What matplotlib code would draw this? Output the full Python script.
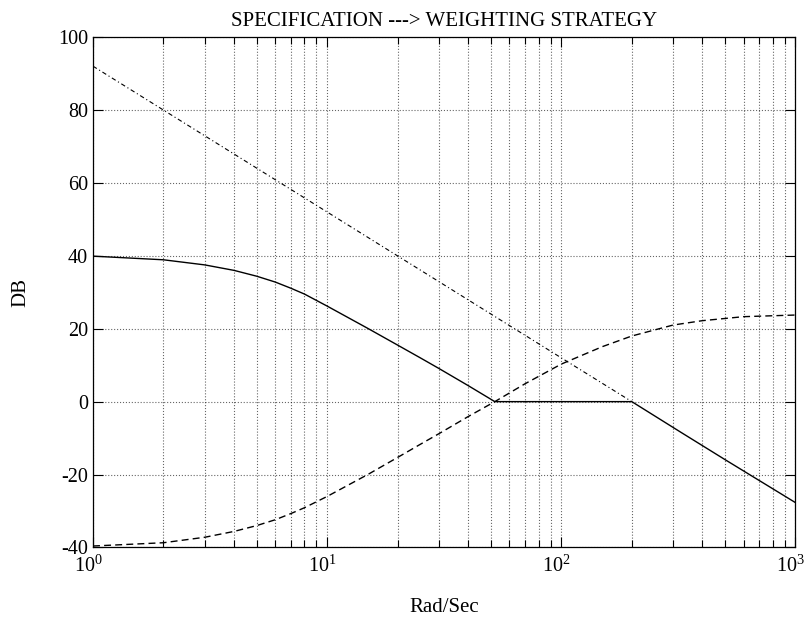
import matplotlib
matplotlib.use("Agg")
import matplotlib.pyplot as plt
import matplotlib.transforms as mtransforms
import numpy as np

plt.rcParams['font.family'] = ['Liberation Serif', 'DejaVu Serif']
plt.rcParams['mathtext.fontset'] = 'custom'
plt.rcParams['mathtext.rm'] = 'Liberation Serif'
plt.rcParams['axes.unicode_minus'] = False

# frequency samples (rad/s) and magnitudes (dB)
w_spec = [1, 2, 3, 4, 5, 6, 7, 8, 10, 15, 20, 25, 30, 40, 52, 200, 322, 500, 1000]
db_spec = [39.9, 38.9, 37.5, 36.0, 34.4, 32.8, 31.1, 29.5, 26.2, 20.0, 15.5, 12.0, 9.1,
           4.4, 0.0, 0.0, -8.3, -15.9, -27.7]

w_wt = [1, 2, 3, 4, 5, 6, 7, 8, 10, 15, 20, 25, 30, 40, 52, 70, 100, 150, 200, 300,
        400, 600, 1000]
db_wt = [-39.6, -38.7, -37.2, -35.6, -34.0, -32.4, -30.7, -29.1, -26.0, -19.9, -15.3,
         -11.7, -8.8, -4.1, 0.0, 4.9, 10.3, 15.1, 18.0, 21.0, 22.2, 23.3, 23.75]

w_bound = [1, 10, 100, 200]
db_bound = [92.0, 52.0, 12.0, 0.0]

fig = plt.figure(figsize=(8.08, 6.21), dpi=100)
ax = fig.add_axes([0.1151, 0.1184, 0.8694, 0.8220])

ax.semilogx(w_spec, db_spec, color='black', lw=1.0)
ax.semilogx(w_wt, db_wt, color='black', lw=1.0, linestyle=(0, (5, 3)))
ax.semilogx(w_bound, db_bound, color='black', lw=0.8, linestyle=(0, (4, 2.5, 1, 2.5)))

ax.set_xlim(1, 1000)
ax.set_ylim(-40, 100)
ax.set_yticks(np.arange(-40, 101, 20))

ax.grid(True, which='major', axis='both', linestyle=':', color='black', lw=0.8, alpha=0.6)
ax.grid(True, which='minor', axis='x', linestyle=':', color='black', lw=0.8, alpha=0.6)

ax.tick_params(which='both', direction='in', top=True, right=True, labelsize=14.5)
ax.tick_params(which='major', length=7, width=0.8)
ax.tick_params(which='minor', length=5, width=0.8)
ax.tick_params(axis='x', pad=6)
for s in ax.spines.values():
    s.set_linewidth(0.9)

# nudge the decade labels a little to the left
shift = mtransforms.ScaledTranslation(-5 / 100, 0, fig.dpi_scale_trans)
for lbl in ax.get_xticklabels():
    lbl.set_transform(lbl.get_transform() + shift)

ax.set_title('SPECIFICATION ---> WEIGHTING STRATEGY', fontsize=15, pad=8)
ax.set_xlabel('Rad/Sec', fontsize=15, labelpad=15)
ax.set_ylabel('DB', fontsize=15, labelpad=20)

fig.savefig('out.png', dpi=100)
